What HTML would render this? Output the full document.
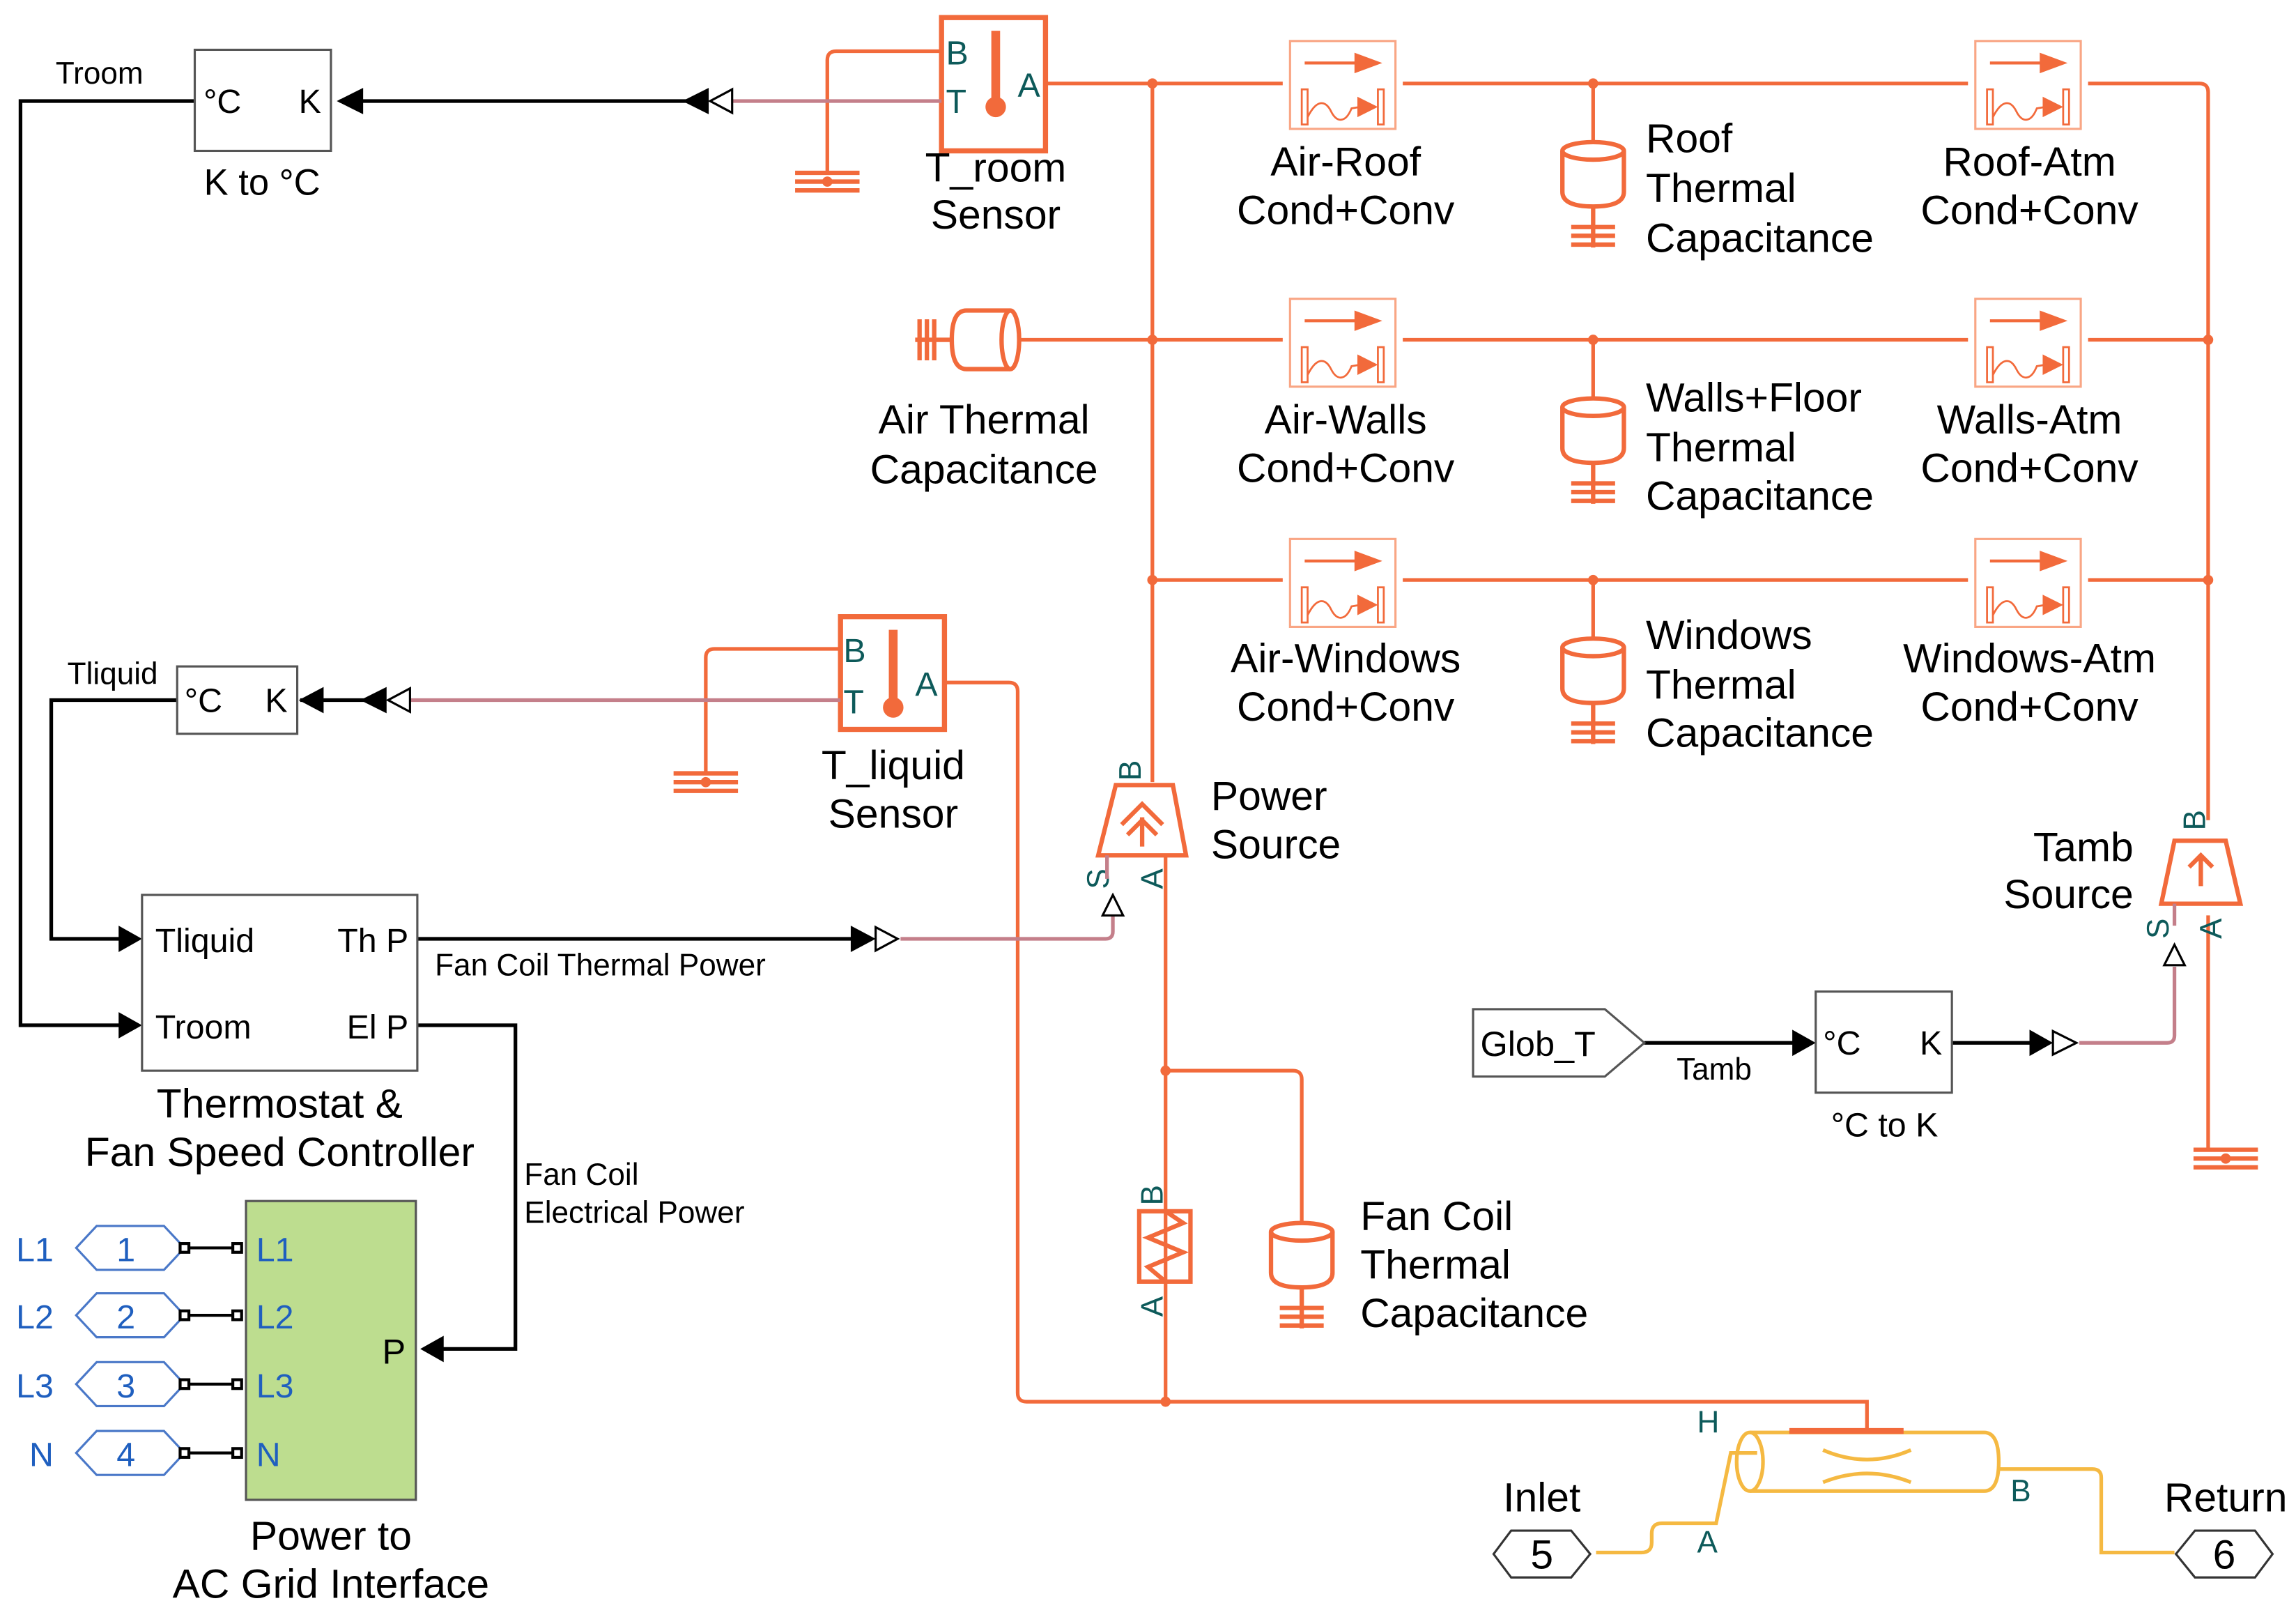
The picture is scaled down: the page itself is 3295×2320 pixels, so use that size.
<!DOCTYPE html>
<html><head><meta charset="utf-8"><style>
html,body{margin:0;padding:0;background:#fff}
svg{display:block}
text{font-family:"Liberation Sans",Arial,sans-serif}
</style></head><body>
<svg width="3295" height="2320" viewBox="0 0 1568 1104" preserveAspectRatio="none" xmlns="http://www.w3.org/2000/svg">
<defs>
<g id="conv">
<rect x="0" y="0" width="72" height="60" fill="#fff" stroke="#f9a685" stroke-width="1.5"/>
<line x1="10" y1="15" x2="48" y2="15" stroke="#f26a3b" stroke-width="2"/>
<polygon points="44,8 63,15 44,22" fill="#f26a3b"/>
<rect x="8" y="33" width="4" height="24" fill="none" stroke="#f26a3b" stroke-width="1.3"/>
<rect x="60" y="33" width="4" height="24" fill="none" stroke="#f26a3b" stroke-width="1.3"/>
<path d="M12,52 C18,40 24,40 28,48 C32,56 38,56 42,46 L48,45" fill="none" stroke="#f26a3b" stroke-width="1.3"/>
<polygon points="46,38 60,45 46,52" fill="#f26a3b"/>
</g>
<g id="cap">
<path d="M-21,6 L-21,34 Q-21,44 0,44 Q21,44 21,34 L21,6" fill="none" stroke="#f26a3b" stroke-width="3"/>
<ellipse cx="0" cy="6" rx="21" ry="6" fill="none" stroke="#f26a3b" stroke-width="3"/>
<line x1="0" y1="44" x2="0" y2="72" stroke="#f26a3b" stroke-width="3"/>
<line x1="-15" y1="58" x2="15" y2="58" stroke="#f26a3b" stroke-width="3"/>
<line x1="-15" y1="64" x2="15" y2="64" stroke="#f26a3b" stroke-width="3"/>
<line x1="-15" y1="70" x2="15" y2="70" stroke="#f26a3b" stroke-width="3"/>
</g>
<g id="gnd">
<line x1="-22" y1="0" x2="22" y2="0" stroke="#f26a3b" stroke-width="3"/>
<line x1="-22" y1="6" x2="22" y2="6" stroke="#f26a3b" stroke-width="3"/>
<line x1="-22" y1="12" x2="22" y2="12" stroke="#f26a3b" stroke-width="3"/>
<circle cx="0" cy="6" r="3.5" fill="#f26a3b"/>
</g>
</defs>

<g fill="none" stroke="#f26a3b" stroke-width="2.5">
<path d="M714,57 H876 M958,57 H1344 M1426,57 H1502 Q1508,57 1508,63 V560"/>
<path d="M697,232 H876 M958,232 H1344 M1426,232 H1508"/>
<path d="M787,396 H876 M958,396 H1344 M1426,396 H1508"/>
<path d="M787,57 V534"/>
<path d="M1088,57 V97 M1088,232 V272 M1088,396 V436"/>
<path d="M1508,625 V785"/>
<path d="M643,35 H571 Q565,35 565,41 V118"/>
<path d="M574,443 H488 Q482,443 482,449 V528"/>
<path d="M645,466 H689 Q695,466 695,472 V951 Q695,957 701,957 H1275 V977"/>
<path d="M796,583 V957"/>
<path d="M796,731 H883 Q889,731 889,737 V835"/>
</g>
<g fill="#f26a3b">
<circle cx="787" cy="57" r="3.5"/><circle cx="1088" cy="57" r="3.5"/>
<circle cx="787" cy="232" r="3.5"/><circle cx="1088" cy="232" r="3.5"/><circle cx="1508" cy="232" r="3.5"/>
<circle cx="787" cy="396" r="3.5"/><circle cx="1088" cy="396" r="3.5"/><circle cx="1508" cy="396" r="3.5"/>
<circle cx="796" cy="731" r="3.5"/><circle cx="796" cy="957" r="3.5"/>
</g>
<use href="#gnd" x="565" y="118"/>
<use href="#gnd" x="482" y="528"/>
<use href="#gnd" x="1520" y="785"/>
<line x1="1508" y1="785" x2="1520" y2="785" stroke="#f26a3b" stroke-width="2.5"/>

<use href="#conv" x="881" y="28"/><use href="#conv" x="1349" y="28"/>
<use href="#conv" x="881" y="204"/><use href="#conv" x="1349" y="204"/>
<use href="#conv" x="881" y="368"/><use href="#conv" x="1349" y="368"/>
<use href="#cap" x="1088" y="97"/>
<use href="#cap" x="1088" y="272"/>
<use href="#cap" x="1088" y="436"/>
<use href="#cap" x="889" y="835"/>

<g fill="none" stroke="#f26a3b" stroke-width="3">
<path d="M690,212 H660 Q650,212 650,232 Q650,252 660,252 H690"/>
<ellipse cx="690" cy="232" rx="6" ry="20"/>
<line x1="650" y1="232" x2="625" y2="232"/>
<line x1="628" y1="218" x2="628" y2="246"/>
<line x1="633" y1="218" x2="633" y2="246"/>
<line x1="638" y1="218" x2="638" y2="246"/>
</g>

<g fill="none" stroke="#f26a3b" stroke-width="3.5">
<rect x="643" y="12" width="71" height="91"/>
<rect x="574" y="421" width="71" height="77"/>
</g>
<g fill="#f26a3b">
<rect x="677" y="21" width="6" height="50"/><circle cx="680" cy="73" r="7"/>
<rect x="607" y="430" width="6" height="50"/><circle cx="610" cy="483" r="7"/>
</g>
<g fill="#0d5a5a" font-size="23">
<text x="646" y="44">B</text><text x="646" y="77">T</text><text x="695" y="66">A</text>
<text x="576" y="452">B</text><text x="576" y="487">T</text><text x="625" y="475">A</text>
</g>

<g fill="none" stroke="#f26a3b" stroke-width="3">
<polygon points="762,536 801,536 810,584 750,584"/>
<path d="M766,563 L780,549 L794,563 M770,570 L780,560 L790,570 M780,558 V578"/>
<polygon points="1485,574 1520,574 1530,617 1476,617"/>
<path d="M1495,592 L1503,584 L1511,592 M1503,585 V605"/>
<rect x="778" y="827" width="35" height="48"/>
<path d="M796,827 L808,835 L784,845 L808,855 L784,865 L796,875"/>
</g>
<g fill="#0d5a5a" font-size="21">
<text transform="translate(779,533) rotate(-90)">B</text>
<text transform="translate(757,607) rotate(-90)">S</text>
<text transform="translate(794,607) rotate(-90)">A</text>
<text transform="translate(1506,567) rotate(-90)">B</text>
<text transform="translate(1481,641) rotate(-90)">S</text>
<text transform="translate(1517,641) rotate(-90)">A</text>
<text transform="translate(794,823) rotate(-90)">B</text>
<text transform="translate(794,899) rotate(-90)">A</text>
<text x="1159" y="978">H</text><text x="1159" y="1060">A</text><text x="1373" y="1025">B</text>
</g>

<g fill="none" stroke="#c47f8a" stroke-width="2.5">
<path d="M500,69 H643"/>
<path d="M280,478 H574"/>
<path d="M615,641 H755 Q760,641 760,636 V625"/>
<path d="M1420,712 H1480 Q1485,712 1485,707 V660"/>
<path d="M756,584 V600"/><path d="M1485,617 V632"/>
</g>
<g fill="#fff" stroke="#000" stroke-width="1.5">
<polygon points="500,61 485,69 500,77"/>
<polygon points="280,470 265,478 280,486"/>
<polygon points="598,633 613,641 598,649"/>
<polygon points="1402,704 1418,712 1402,720"/>
<polygon points="760,611 753,625 767,625"/>
<polygon points="1485,645 1478,659 1492,659"/>
</g>
<g fill="none" stroke="#000" stroke-width="2.5">
<path d="M232,69 H470"/>
<path d="M133,69 H14 V700 H85"/>
<path d="M205,478 H250"/>
<path d="M121,478 H35 V641 H85"/>
<path d="M285,641 H585"/>
<path d="M285,700 H352 V921 H298"/>
<path d="M1123,712 H1228"/>
<path d="M1333,712 H1390"/>
</g>
<g fill="#000">
<polygon points="248,60 230,69 248,78"/>
<polygon points="484,60 466,69 484,78"/>
<polygon points="221,469 204,478 221,487"/>
<polygon points="264,469 246,478 264,487"/>
<polygon points="81,632 97,641 81,650"/>
<polygon points="81,691 97,700 81,709"/>
<polygon points="581,632 598,641 581,650"/>
<polygon points="303,912 287,921 303,930"/>
<polygon points="1224,703 1240,712 1224,721"/>
<polygon points="1386,703 1402,712 1386,721"/>
</g>

<g fill="#fff" stroke="#555" stroke-width="1.5">
<rect x="133" y="34" width="93" height="69"/>
<rect x="121" y="455" width="82" height="46"/>
<rect x="97" y="611" width="188" height="120"/>
<rect x="1240" y="677" width="93" height="69"/>
<polygon points="1006,689 1096,689 1123,712 1096,735 1006,735"/>
</g>
<rect x="168" y="820" width="116" height="204" fill="#bddd8f" stroke="#555" stroke-width="1.5"/>

<g fill="none" stroke="#4a78c8" stroke-width="1.5">
<polygon points="52,852 66,837 112,837 126,852 112,867 66,867"/>
<polygon points="52,898 66,883 112,883 126,898 112,913 66,913"/>
<polygon points="52,945 66,930 112,930 126,945 112,960 66,960"/>
<polygon points="52,992 66,977 112,977 126,992 112,1007 66,1007"/>
</g>
<g stroke="#000" stroke-width="2">
<path d="M126,852 H162 M126,898 H162 M126,945 H162 M126,992 H162"/>
</g>
<g fill="#fff" stroke="#000" stroke-width="2">
<rect x="123" y="849" width="6" height="6"/><rect x="159" y="849" width="6" height="6"/>
<rect x="123" y="895" width="6" height="6"/><rect x="159" y="895" width="6" height="6"/>
<rect x="123" y="942" width="6" height="6"/><rect x="159" y="942" width="6" height="6"/>
<rect x="123" y="989" width="6" height="6"/><rect x="159" y="989" width="6" height="6"/>
</g>
<g fill="#1f5fbf" font-size="23">
<text x="86" y="861" text-anchor="middle">1</text>
<text x="86" y="907" text-anchor="middle">2</text>
<text x="86" y="954" text-anchor="middle">3</text>
<text x="86" y="1001" text-anchor="middle">4</text>
<text x="11" y="861">L1</text><text x="11" y="907">L2</text><text x="11" y="954">L3</text><text x="20" y="1001">N</text>
<text x="175" y="861">L1</text><text x="175" y="907">L2</text><text x="175" y="954">L3</text><text x="175" y="1001">N</text>
</g>

<g fill="none" stroke="#f5b942" stroke-width="2.5">
<path d="M1195,978 H1355 Q1365,978 1365,998 Q1365,1018 1355,1018 H1195"/>
<ellipse cx="1195" cy="998" rx="9" ry="20"/>
<path d="M1245,990 Q1275,1003 1305,990 M1245,1012 Q1275,1000 1305,1012"/>
<path d="M1200,992 H1182 L1172,1040 H1135 Q1128,1040 1128,1047 V1053 Q1128,1060 1121,1060 H1090"/>
<path d="M1365,1003 H1429 Q1435,1003 1435,1009 V1060 H1485"/>
</g>
<line x1="1222" y1="977" x2="1300" y2="977" stroke="#f26a3b" stroke-width="4"/>
<g fill="#fff" stroke="#333" stroke-width="1.5">
<polygon points="1020,1061 1032,1045 1073,1045 1086,1061 1073,1077 1032,1077"/>
<polygon points="1486,1061 1499,1045 1540,1045 1552,1061 1540,1077 1499,1077"/>
</g>

<g fill="#000" font-size="28">
<text x="1053" y="1071" text-anchor="middle">5</text>
<text x="1519" y="1071" text-anchor="middle">6</text>
<text x="1053" y="1032" text-anchor="middle">Inlet</text>
<text x="1520" y="1032" text-anchor="middle">Return</text>
<text x="680" y="124" text-anchor="middle">T_room</text>
<text x="680" y="156" text-anchor="middle">Sensor</text>
<text x="610" y="532" text-anchor="middle">T_liquid</text>
<text x="610" y="565" text-anchor="middle">Sensor</text>
<text x="672" y="296" text-anchor="middle">Air Thermal</text>
<text x="672" y="330" text-anchor="middle">Capacitance</text>
<text x="919" y="120" text-anchor="middle">Air-Roof</text>
<text x="919" y="153" text-anchor="middle">Cond+Conv</text>
<text x="919" y="296" text-anchor="middle">Air-Walls</text>
<text x="919" y="329" text-anchor="middle">Cond+Conv</text>
<text x="919" y="459" text-anchor="middle">Air-Windows</text>
<text x="919" y="492" text-anchor="middle">Cond+Conv</text>
<text x="1386" y="120" text-anchor="middle">Roof-Atm</text>
<text x="1386" y="153" text-anchor="middle">Cond+Conv</text>
<text x="1386" y="296" text-anchor="middle">Walls-Atm</text>
<text x="1386" y="329" text-anchor="middle">Cond+Conv</text>
<text x="1386" y="459" text-anchor="middle">Windows-Atm</text>
<text x="1386" y="492" text-anchor="middle">Cond+Conv</text>
<text x="1124" y="104">Roof</text><text x="1124" y="138">Thermal</text><text x="1124" y="172">Capacitance</text>
<text x="1124" y="281">Walls+Floor</text><text x="1124" y="315">Thermal</text><text x="1124" y="348">Capacitance</text>
<text x="1124" y="443">Windows</text><text x="1124" y="477">Thermal</text><text x="1124" y="510">Capacitance</text>
<text x="929" y="840">Fan Coil</text><text x="929" y="873">Thermal</text><text x="929" y="906">Capacitance</text>
<text x="827" y="553">Power</text><text x="827" y="586">Source</text>
<text x="1457" y="588" text-anchor="end">Tamb</text><text x="1457" y="620" text-anchor="end">Source</text>
<text x="191" y="763" text-anchor="middle">Thermostat &amp;</text>
<text x="191" y="796" text-anchor="middle">Fan Speed Controller</text>
<text x="226" y="1058" text-anchor="middle">Power to</text>
<text x="226" y="1091" text-anchor="middle">AC Grid Interface</text>
</g>
<g fill="#000" font-size="23">
<text x="139" y="77">°C</text><text x="204" y="77">K</text>
<text x="179" y="133" text-anchor="middle" font-size="25">K to °C</text>
<text x="126" y="486">°C</text><text x="181" y="486">K</text>
<text x="106" y="650">Tliquid</text><text x="279" y="650" text-anchor="end">Th P</text>
<text x="106" y="709">Troom</text><text x="279" y="709" text-anchor="end">El P</text>
<text x="261" y="931" font-size="24">P</text>
<text x="1011" y="721" font-size="24">Glob_T</text>
<text x="1245" y="720">°C</text><text x="1311" y="720">K</text>
<text x="1287" y="776" text-anchor="middle">°C to K</text>
</g>
<g fill="#000" font-size="21">
<text x="38" y="57">Troom</text>
<text x="46" y="467">Tliquid</text>
<text x="297" y="666">Fan Coil Thermal Power</text>
<text x="358" y="809">Fan Coil</text>
<text x="358" y="835">Electrical Power</text>
<text x="1145" y="737">Tamb</text>
</g>
</svg>
</body></html>
